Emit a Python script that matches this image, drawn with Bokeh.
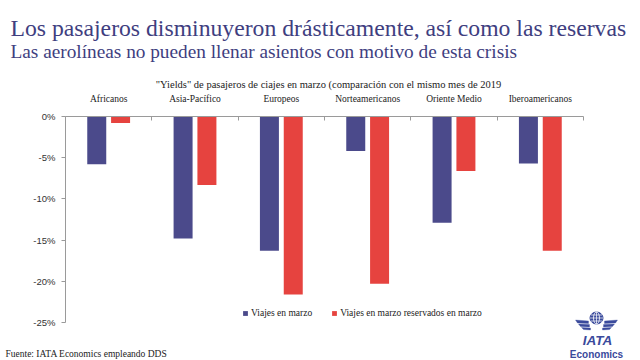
import numpy as np
from bokeh.plotting import figure
from bokeh.models import (FixedTicker, PrintfTickFormatter, Legend, LegendItem, LinearAxis, Range1d)
from bokeh.core.properties import value
from bokeh.embed import file_html
from bokeh.resources import INLINE

categories = ["Africanos", "Asia-Pacífico", "Europeos", "Norteamericanos", "Oriente Medio", "Iberoamericanos"]
viajes_marzo = [-5.8, -14.8, -16.3, -4.2, -12.9, -5.7]
reservados_marzo = [-0.8, -8.3, -21.6, -20.3, -6.6, -16.3]
y_ticks = [-25, -20, -15, -10, -5, 0]

title = "Los pasajeros disminuyeron drásticamente, así como las reservas"
subtitle = "Las aerolíneas no pueden llenar asientos con motivo de esta crisis"
chart_title = '"Yields" de pasajeros de ciajes en marzo (comparación con el mismo mes de 2019'
source_note = "Fuente: IATA Economics empleando DDS"

BLUE = "#4b4a8b"
RED = "#e6433f"
TITLE_C = "#403e80"
LOGO = "#3a4a9c"
AXIS_C = "#9a9a9a"
SERIF = "Liberation Serif"
SANS = "Liberation Sans"

W, H = 640, 360
FL, FR, FT, FB = 65, 583, 116, 322         # where the axes lie, in page pixels
YMIN, YMAX = -25, 0
NC = len(categories)
ppu_x = (FR - FL) / NC
ppu_y = (FB - FT) / (YMAX - YMIN)

# the frame fills the whole canvas; axes are pinned with fixed_location
p = figure(width=W, height=H, output_backend="svg", toolbar_location=None,
           x_range=Range1d(-FL / ppu_x, NC + (W - FR) / ppu_x),
           y_range=Range1d(YMIN - (H - FB) / ppu_y, YMAX + FT / ppu_y),
           x_axis_location=None, y_axis_location=None, min_border=0)
p.outline_line_color = None
p.grid.visible = False
p.background_fill_color = "white"
p.border_fill_color = "white"

def dx(px):
    return (px - FL) / ppu_x
def dy(py):
    return YMAX - (py - FT) / ppu_y

centers = np.arange(NC) + 0.5
off = 0.138
bw = 0.22
r1 = p.vbar(x=centers - off, top=0, bottom=viajes_marzo, width=bw, fill_color=BLUE, line_color=None)
r2 = p.vbar(x=centers + off, top=0, bottom=reservados_marzo, width=bw, fill_color=RED, line_color=None)

yax = LinearAxis(ticker=FixedTicker(ticks=y_ticks), formatter=PrintfTickFormatter(format="%d%%"),
                 bounds=(YMIN, YMAX), fixed_location=0)
yax.axis_line_color = AXIS_C
yax.major_tick_line_color = AXIS_C
yax.major_tick_out = 4
yax.major_tick_in = 0
yax.minor_tick_line_color = None
yax.major_label_text_font = SANS
yax.major_label_text_font_size = "9.5px"
yax.major_label_text_color = "#333333"
yax.major_label_standoff = 6
p.add_layout(yax, "left")

xax = LinearAxis(ticker=FixedTicker(ticks=list(centers), minor_ticks=list(range(NC + 1))),
                 major_label_overrides={float(c): n for c, n in zip(centers, categories)},
                 bounds=(0, NC), fixed_location=0)
xax.axis_line_color = AXIS_C
xax.major_tick_line_color = None
xax.minor_tick_line_color = AXIS_C
xax.minor_tick_in = 4
xax.minor_tick_out = 0
xax.major_label_text_font = SERIF
xax.major_label_text_font_size = "9.5px"
xax.major_label_text_color = "#222222"
xax.major_label_standoff = 7
p.add_layout(xax, "above")

legend = Legend(items=[LegendItem(label="Viajes en marzo", renderers=[r1]),
                       LegendItem(label="Viajes en marzo reservados en marzo", renderers=[r2])],
                orientation="horizontal", location=(242, H - 318), padding=0, spacing=19,
                glyph_width=6, glyph_height=6, label_standoff=3,
                label_text_font=SERIF, label_text_font_size="9.5px", label_text_color="#222222",
                background_fill_alpha=0, border_line_color=None, label_height=10)
p.add_layout(legend, "center")

# titles and notes
def txt(s, px, py, size, color, font=SERIF, align="left", style="normal"):
    p.text(x=[dx(px)], y=[dy(py)], text=[s], text_font=value(font), text_font_size=size,
           text_color=color, text_align=align, text_baseline="alphabetic", text_font_style=style)

txt(title, 10, 27, "23.7px", TITLE_C)
txt(subtitle, 10, 51, "19.3px", TITLE_C)
txt(chart_title, 328, 84, "10.5px", "#222222", align="center")
txt(source_note, 5, 353, "9.5px", "#222222")

# IATA logo (decoration)
LX = 596
p.ellipse(x=[dx(LX)], y=[dy(317.5)], width=13 / ppu_x, height=12 / ppu_y, fill_color=LOGO, line_color=LOGO)
p.ellipse(x=[dx(LX)], y=[dy(317.5)], width=6 / ppu_x, height=12 / ppu_y, fill_color=None,
          line_color="white", line_width=0.8)
p.segment(x0=[dx(LX - 6.5), dx(LX), dx(LX - 5.5), dx(LX - 5.5)],
          y0=[dy(317.5), dy(311.5), dy(314.5), dy(320.5)],
          x1=[dx(LX + 6.5), dx(LX), dx(LX + 5.5), dx(LX + 5.5)],
          y1=[dy(317.5), dy(323.5), dy(314.5), dy(320.5)],
          line_color="white", line_width=0.7)
wing_xs, wing_ys = [], []
for sgn in (-1, 1):
    wing_xs.append([dx(LX + sgn * v) for v in (8, 21, 19, 8)])
    wing_ys.append([dy(v) for v in (320.5, 319.5, 322.5, 323)])
    wing_xs.append([dx(LX + sgn * v) for v in (7, 18, 16, 7)])
    wing_ys.append([dy(v) for v in (324, 323.5, 326, 326.5)])
    wing_xs.append([dx(LX + sgn * v) for v in (6, 15, 13, 6)])
    wing_ys.append([dy(v) for v in (327.5, 327, 329, 329.5)])
p.patches(xs=wing_xs, ys=wing_ys, fill_color=LOGO, line_color=LOGO, line_width=0.3)
txt("IATA", 597, 339.5, "13.5px", LOGO, font=SANS, align="center", style="bold italic")
txt("Economics", 596, 354, "10px", LOGO, font=SANS, align="center", style="bold")

open("out.html", "w").write(file_html(p, INLINE))
